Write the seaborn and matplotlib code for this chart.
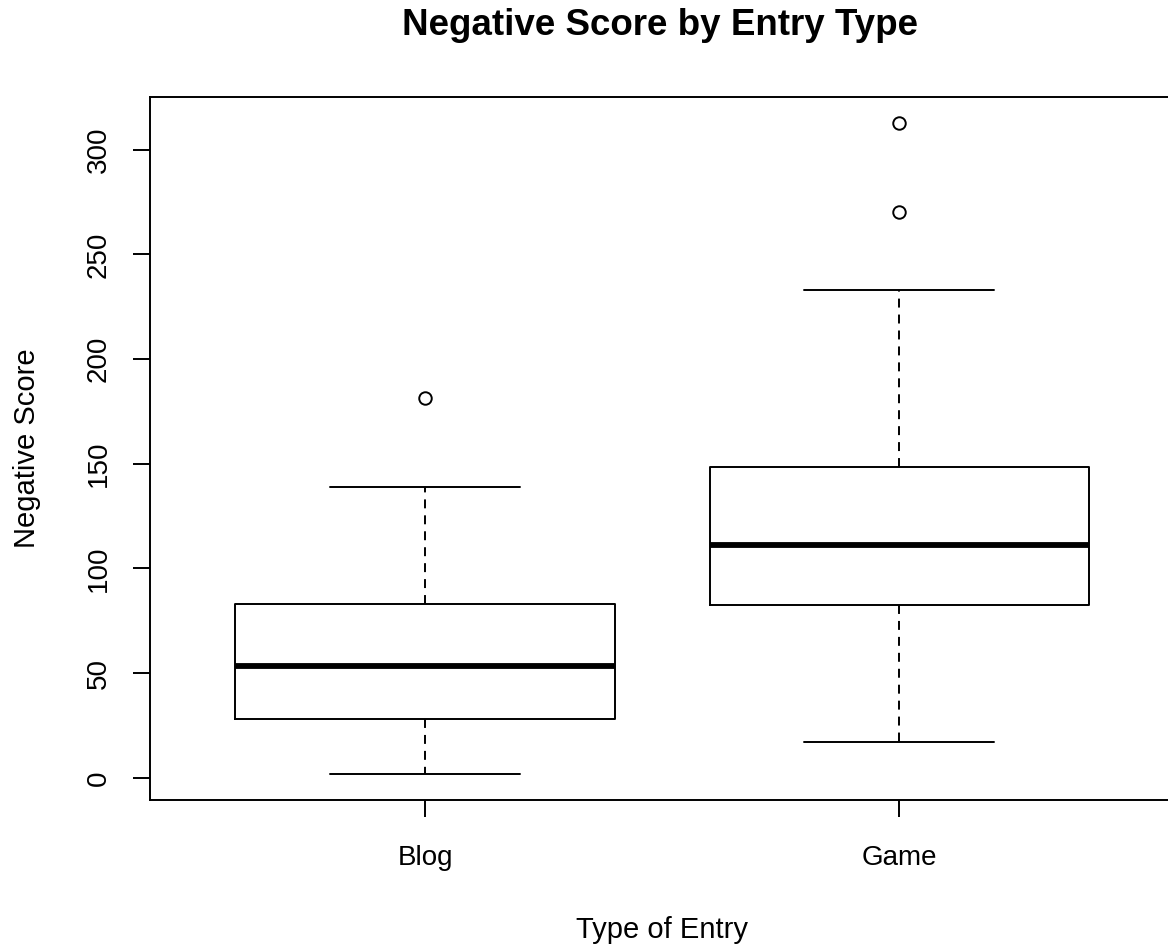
import matplotlib
matplotlib.use("Agg")
import matplotlib.pyplot as plt
import seaborn as sns

# values
categories = ["Blog", "Game"]
lower_whisker = [1.8, 17.2]
q1 = [28.0, 82.6]
median = [53.5, 111.3]
q3 = [83.1, 148.5]
upper_whisker = [139.1, 233.0]
outliers = [[181.6], [270.0, 312.5]]
y_ticks = [0, 50, 100, 150, 200, 250, 300]

sns.set_style("white")
plt.rcParams['font.family'] = ['Liberation Sans', 'DejaVu Sans']

stats = []
for i, cat in enumerate(categories):
    stats.append({
        'label': cat,
        'whislo': lower_whisker[i],
        'q1': q1[i],
        'med': median[i],
        'q3': q3[i],
        'whishi': upper_whisker[i],
        'fliers': outliers[i],
    })

fig = plt.figure(figsize=(11.68, 9.47), dpi=100)
W, H = 1168, 947
ax = fig.add_axes([150 / W, (H - 800) / H, (1174.3 - 150) / W, (800 - 97.3) / H])

lw = 1.4
ax.bxp(stats, positions=range(len(categories)), widths=0.8, capwidths=0.4,
       patch_artist=False,
       boxprops=dict(color='black', linewidth=lw),
       medianprops=dict(color='black', linewidth=4.2, solid_capstyle='butt'),
       whiskerprops=dict(color='black', linewidth=lw, linestyle=(0, (4.6, 3.6))),
       capprops=dict(color='black', linewidth=lw),
       flierprops=dict(marker='o', markerfacecolor='none', markeredgecolor='black',
                       markersize=9, markeredgewidth=lw, linestyle='none'))

ax.set_xlim(-0.58, 1.58)
ax.set_ylim(-10.6, 325)
ax.set_yticks(y_ticks)
ax.set_xticks(range(len(categories)))
ax.set_xticklabels(categories)

for side in ['top', 'right', 'bottom', 'left']:
    ax.spines[side].set_visible(True)
    ax.spines[side].set_color('black')
    ax.spines[side].set_linewidth(lw)

ax.tick_params(axis='both', direction='out', length=12.5, width=lw, color='black',
               labelsize=20, labelcolor='black')
ax.tick_params(axis='x', pad=20, bottom=True)
ax.tick_params(axis='y', pad=15, left=True, labelrotation=90)
for lab in ax.get_yticklabels():
    lab.set_va('center')

ax.set_xlabel('Type of Entry', fontsize=21, color='black')
ax.set_ylabel('Negative Score', fontsize=21, color='black')
ax.xaxis.set_label_coords(0.5, (800 - 930) / 703)
ax.xaxis.label.set_va('center')
ax.yaxis.set_label_coords((27 - 150) / 1024.3, 0.5)
ax.yaxis.label.set_va('center')

title = ax.set_title('Negative Score by Entry Type', fontsize=26.5, fontweight='bold',
                     color='black', x=(659.5 - 150) / 1024.3, y=(800 - 25) / 703, pad=0)
title.set_va('center')

fig.savefig('out.png', dpi=100, facecolor='white')
